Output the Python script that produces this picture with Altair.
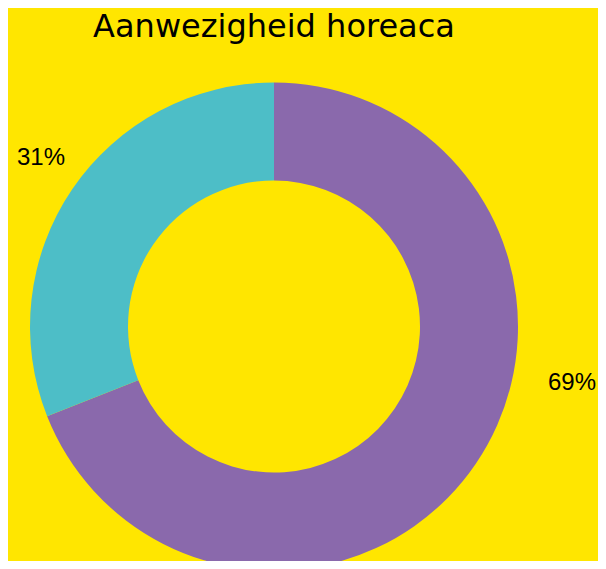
import altair as alt
import pandas as pd

title_text = "Aanwezigheid horeaca"
categories = ["Aanwezig", "Niet aanwezig"]
values = [69, 31]
labels = ["69%", "31%"]
order = [0, 1]
colors = ["#8A69AC", "#4DBEC7"]

df = pd.DataFrame({"cat": categories, "val": values, "label": labels, "ord": order})

cx, cy = 266, 318.5
theta_scale = alt.Scale(domain=[0, 100])

arcs = alt.Chart(df).mark_arc(outerRadius=244, innerRadius=146).encode(
    theta=alt.Theta("val:Q", stack=True, scale=theta_scale),
    order=alt.Order("ord:Q"),
    color=alt.Color("cat:N", scale=alt.Scale(domain=categories, range=colors), legend=None),
    x=alt.value(cx), y=alt.value(cy),
)

txt_style = dict(font="Liberation Sans", fontSize=24, color="#000000", align="center", baseline="middle")

lab_base = alt.Chart(df).transform_stack(
    stack="val", groupby=[], as_=["v0", "v1"], sort=[alt.SortField("ord", order="ascending")]
).transform_calculate(mid="(datum.v0 + datum.v1) / 2")

lab_teal = lab_base.transform_filter(alt.datum.cat == categories[1]).mark_text(
    radius=289, dx=6, dy=-6, **txt_style
).encode(
    theta=alt.Theta("mid:Q", stack=None, scale=theta_scale),
    text="label:N", x=alt.value(cx), y=alt.value(cy),
)

lab_purple = lab_base.transform_filter(alt.datum.cat == categories[0]).mark_text(
    radius=289, dx=59, dy=-106, **txt_style
).encode(
    theta=alt.Theta("mid:Q", stack=None, scale=theta_scale),
    text="label:N", x=alt.value(cx), y=alt.value(cy),
)

title = alt.Chart(pd.DataFrame({"t": [title_text]})).mark_text(
    font="DejaVu Sans", fontSize=32, color="#000000", align="center", baseline="alphabetic"
).encode(text="t:N", x=alt.value(266), y=alt.value(29))

chart = alt.layer(arcs, lab_teal, lab_purple, title).properties(
    width=590, height=553, autosize=alt.AutoSizeParams(type="none"), padding=0,
    background="#FFE600",
).configure_view(stroke=None)

chart.save("out.html", embed_options={"renderer": "svg", "actions": False})
